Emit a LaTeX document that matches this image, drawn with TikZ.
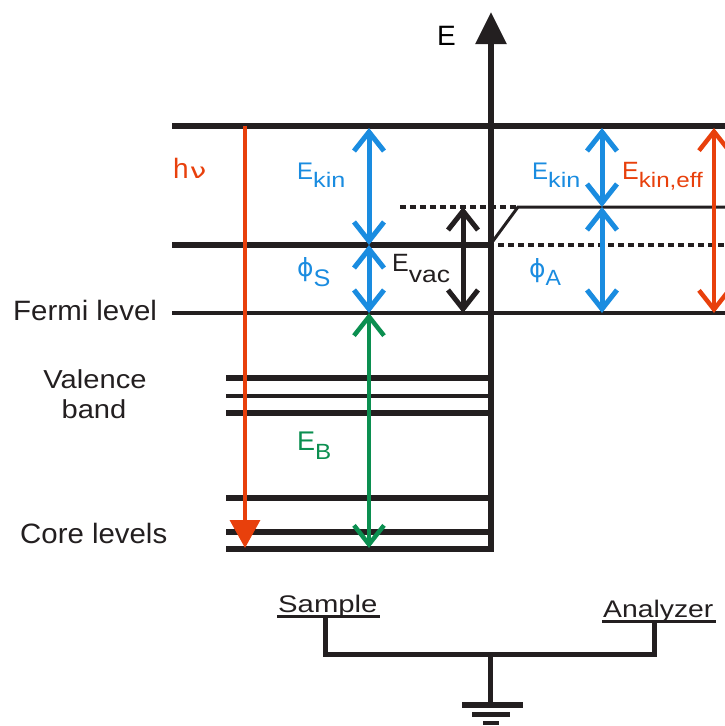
\documentclass[tikz,border=0pt]{standalone}
\usepackage{fontspec}
\usepackage{graphicx}
\setmainfont{Liberation Sans}
\newfontfamily\grk{DejaVu Sans}
\usetikzlibrary{arrows.meta}
\definecolor{cblue}{HTML}{1A8CE0}
\definecolor{corange}{HTML}{E8400C}
\definecolor{cgreen}{HTML}{0B8F50}
\definecolor{cblack}{HTML}{231F20}
\newcommand{\fs}[1]{\fontsize{#1}{#1}\selectfont}
\newcommand{\sx}[2]{\scalebox{#1}[1]{#2}}
\newcommand{\sub}[2]{\raisebox{-#1pt}{#2}}
\begin{document}
\begin{tikzpicture}[x=1pt,y=-1pt,
  level/.style={cblack,line width=5.5pt},
  thinlevel/.style={cblack,line width=4.3pt},
  dotline/.style={cblack,line width=4.5pt,dash pattern=on 6pt off 4pt},
  barbs/.style={line width=#1,{Straight Barb[length=19pt,width=30pt,sharp]}-{Straight Barb[length=19pt,width=30pt,sharp]}},
  lbl/.style={inner sep=0pt,anchor=base west},
  wire/.style={cblack,line width=5pt}]
\useasboundingbox (0,0) rectangle (725,726);
% energy levels
\draw[level] (172,126) -- (725,126);
\draw[level] (172,245) -- (491,245);
\draw[cblack,line width=4.5pt] (172,313) -- (725,313);
\draw[dotline] (400,207) -- (518,207);
\draw[dotline] (498,245) -- (725,245);
\draw[cblack,line width=3pt] (493,241) -- (518,207) -- (725,207);
% valence band and core levels
\draw[level] (226,378) -- (491,378);
\draw[thinlevel] (226,396) -- (491,396);
\draw[level] (226,413) -- (491,413);
\draw[level] (226,498) -- (491,498);
\draw[level] (226,532) -- (491,532);
% axis
\draw[level,-{Triangle[length=32pt,width=30pt]}] (226,549) -- (491,549) -- (491,12);
\node[lbl] (E) at (437,45) {\fs{28}E};
% photon
\coordinate (hvtop) at (245,126);
\coordinate (hvbot) at (245,548);
\draw[corange,line width=3.5pt,-{Triangle[length=28pt,width=30pt]}] (hvtop) -- (hvbot);
\node[lbl,text=corange] (hv) at (173,178) {\fs{28}h\hspace{1pt}\sx{1.4}{\fs{21}\grk ν}};
% sample side arrows
\coordinate (s1) at (369,128);
\coordinate (s2) at (369,245);
\coordinate (s3) at (369,313);
\coordinate (s4) at (369,548);
\draw[cblue,barbs=5pt] (s1) -- (s2);
\draw[cblue,barbs=5pt] (s2) -- (s3);
\draw[cgreen,barbs=4.5pt] (s3) -- (s4);
\node[lbl,text=cblue] (Ekin1) at (297,179) {\fs{24}E\sub{8}{\sx{1.2}{\fs{21}kin}}};
\node[lbl,text=cblue] (phiS) at (297,276) {\fs{25}{\grk ϕ}\sub{10}{\sx{1.05}{\fs{24}S}}};
\node[lbl,text=cgreen] (EB) at (297,450) {\fs{27}E\sub{9}{\sx{1.1}{\fs{22}B}}};
% vacuum level arrow
\coordinate (v1) at (463,207);
\coordinate (v2) at (463,313);
\draw[cblack,barbs=5pt] (v1) -- (v2);
\node[lbl,text=cblack] (Evac) at (392,271) {\fs{25}E\sub{11}{\sx{1.15}{\fs{23}vac}}};
% analyzer side arrows
\coordinate (a1) at (602,128);
\coordinate (a2) at (602,207);
\coordinate (a3) at (602,313);
\draw[cblue,barbs=5pt] (a1) -- (a2);
\draw[cblue,barbs=5pt] (a2) -- (a3);
\node[lbl,text=cblue] (Ekin2) at (532,179) {\fs{24}E\sub{8}{\sx{1.2}{\fs{21}kin}}};
\node[lbl,text=cblue] (phiA) at (529,277) {\fs{25}{\grk ϕ}\sub{8}{\sx{1.05}{\fs{22}A}}};
\coordinate (o1) at (714,128);
\coordinate (o2) at (714,313);
\draw[corange,barbs=4.5pt] (o1) -- (o2);
\node[lbl,text=corange] (Eeff) at (622,179) {\fs{25}E\sub{8}{\sx{1.15}{\fs{21}kin,eff}}};
% left labels
\node[lbl,text=cblack] (fermi) at (13,320) {\sx{1.05}{\fs{28}Fermi level}};
\node[inner sep=0pt,anchor=base,text=cblack] (val) at (95,388) {\sx{1.12}{\fs{26}Valence}};
\node[inner sep=0pt,anchor=base,text=cblack] (band) at (94,418) {\sx{1.12}{\fs{26}band}};
\node[lbl,text=cblack] (core) at (20,543) {\sx{1.05}{\fs{28}Core levels}};
% bottom circuit
\node[lbl,text=cblack] (sample) at (278,612) {\sx{1.22}{\fs{24}Sample}};
\node[lbl,text=cblack] (analyzer) at (603,617) {\sx{1.18}{\fs{24}Analyzer}};
\draw[cblack,line width=2.5pt] (277,616.5) -- (380,616.5);
\draw[cblack,line width=2.5pt] (602,621.5) -- (716,621.5);
\coordinate (sw) at (325,616);
\coordinate (aw) at (654,621);
\coordinate (gnd) at (490,705);
\draw[wire] (sw) -- (325,654) -- (654,654) -- (aw);
\draw[wire] (490,654) -- (gnd);
\draw[cblack,line width=6pt] (462,705) -- (523,705);
\draw[cblack,line width=5pt] (472,714) -- (510,714);
\draw[cblack,line width=4pt] (483,723) -- (499,723);
\end{tikzpicture}
\end{document}
